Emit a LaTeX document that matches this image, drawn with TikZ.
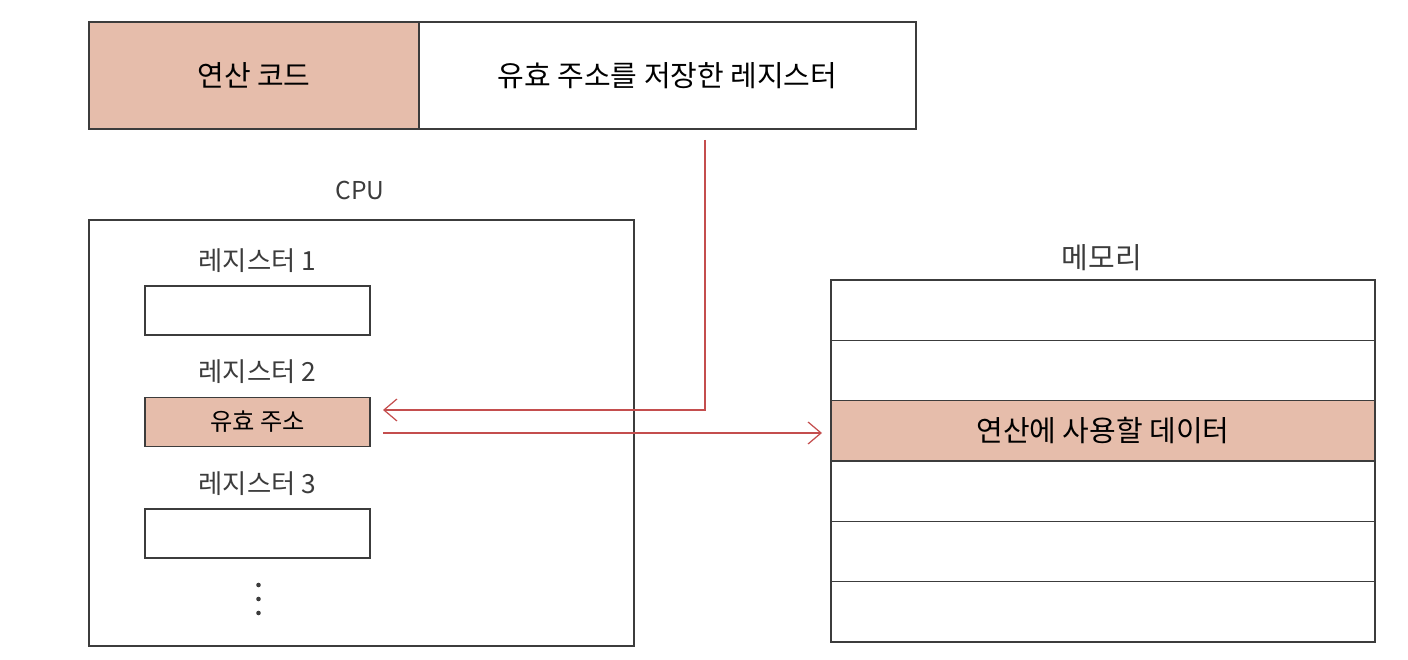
\documentclass[tikz,border=0pt]{standalone}
\usepackage{fontspec}
\setmainfont{Noto Sans CJK KR}
\usepackage{tikz}
\usetikzlibrary{arrows.meta, positioning, calc}
\definecolor{myred}{RGB}{196,78,78}
\definecolor{mydark}{RGB}{60,60,60}
\definecolor{hlsalmon}{RGB}{230,189,171}
\tikzset{
  field/.style={rectangle, draw=mydark, line width=0.8pt, outer sep=0pt,
    minimum height=2.14cm, font=\fontsize{16.5}{18}\selectfont},
  regbox/.style={rectangle, draw=mydark, line width=0.8pt, outer sep=0pt,
    minimum width=4.5cm, minimum height=0.98cm, font=\fontsize{13.8}{15}\selectfont},
  memrow/.style={rectangle, draw=mydark, line width=0.8pt, outer sep=0pt,
    minimum width=10.88cm, minimum height=1.207cm, font=\fontsize{16.5}{18}\selectfont},
  lbl/.style={font=\fontsize{15}{17}\selectfont, text=mydark},
  redarrow/.style={-{Straight Barb[length=0.26cm, width=0.44cm]}, line width=0.7pt, color=myred}
}
\begin{document}
\begin{tikzpicture}[node distance=0.15cm]
  \useasboundingbox (0,0) rectangle (28.16,-13.2);

  % Instruction
  \node[field, fill=hlsalmon, minimum width=6.6cm] (opcode) at (5.08,-1.51) {연산 코드};
  \node[field, minimum width=9.94cm, right=0pt of opcode] (addr) {유효 주소를 저장한 레지스터};

  % CPU
  \node[rectangle, draw=mydark, line width=0.8pt, minimum width=10.9cm,
    minimum height=8.52cm] (cpu) at (7.23,-8.66) {};
  \node[lbl, font=\fontsize{14}{16}\selectfont] (cpulbl) at (7.2,-3.8) {CPU};
  \node[regbox] (reg1) at (5.15,-6.21) {};
  \node[regbox, fill=hlsalmon] (reg2) at (5.15,-8.44) {유효 주소};
  \node[regbox] (reg3) at (5.15,-10.67) {};
  \node[lbl, above=of reg1] (r1lbl) {레지스터 1};
  \node[lbl, above=of reg2] (r2lbl) {레지스터 2};
  \node[lbl, above=of reg3] (r3lbl) {레지스터 3};
  \foreach \k in {0,1,2}
    \fill[mydark] ([xshift=0.02cm, yshift={-1.03cm-\k*0.28cm}]reg3.center) circle (1.3pt);

  % Memory
  \foreach \i in {1,...,6} {
    \node[memrow] (m\i) at (22.06,{-5.6-(\i-0.5)*1.207}) {};
  }
  \node[memrow, fill=hlsalmon] at (m3) {연산에 사용할 데이터};
  \node[lbl, font=\fontsize{16.5}{18}\selectfont] (memlbl) at (22.04,-5.16) {메모리};

  % Arrows
  \coordinate (tap) at ([xshift=0.75cm, yshift=-0.22cm]addr.south);
  \coordinate (out) at ([xshift=0.26cm, yshift=-0.22cm]reg2.east);
  \draw[redarrow] (tap) |- ([xshift=0.26cm, yshift=0.24cm]reg2.east);
  \draw[redarrow, shorten >=0.18cm] (out) -- (out -| m3.west);
\end{tikzpicture}
\end{document}
